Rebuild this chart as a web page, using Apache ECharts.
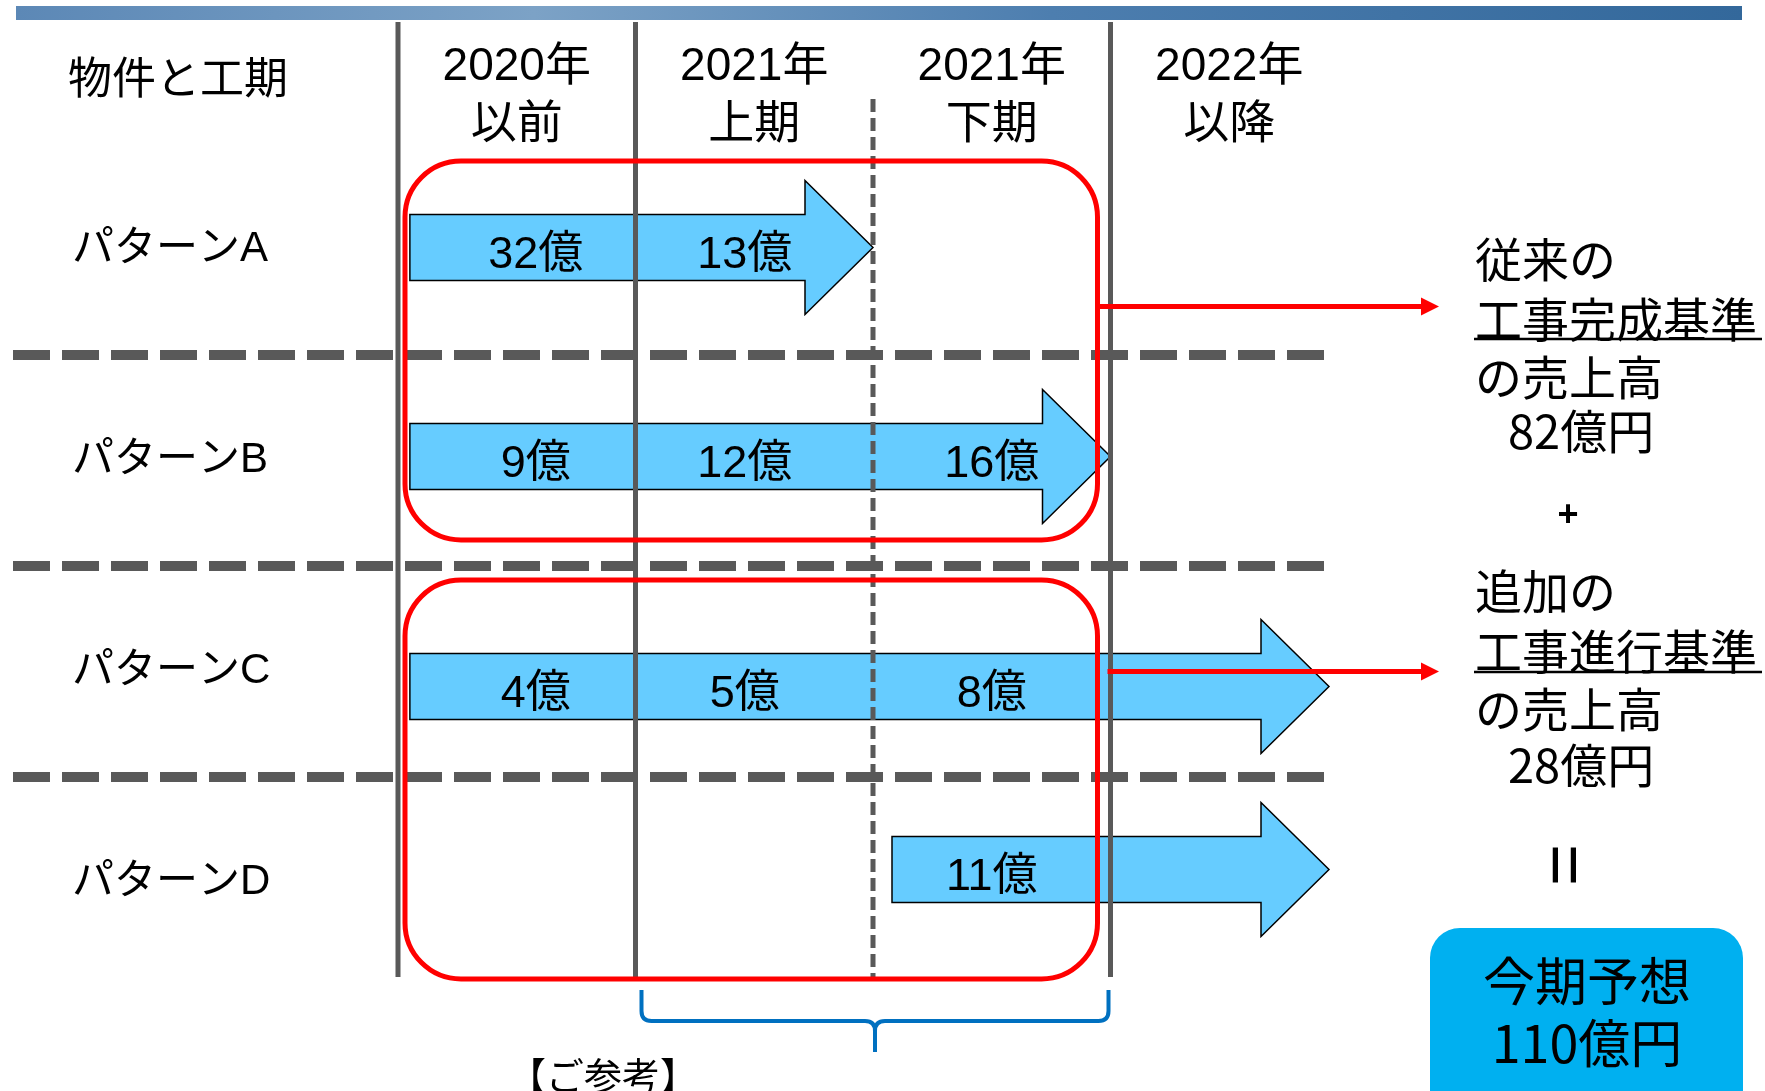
<!DOCTYPE html>
<html>
<head>
<meta charset="utf-8">
<script src="https://cdn.jsdelivr.net/npm/echarts@6/dist/echarts.min.js"></script>
<style>
  html, body { margin: 0; padding: 0; background: #ffffff; }
  #chart { width: 1765px; height: 1091px; }
</style>
</head>
<body>
<div id="chart"></div>
<script>
// Projects (rows) and half-year periods (columns)
const patterns = ['パターンA', 'パターンB', 'パターンC', 'パターンD'];
const periods = ['2020年\n以前', '2021年\n上期', '2021年\n下期', '2022年\n以降'];

// Construction span of each project, measured in half-year periods
const spanStart = [0.05, 0.05, 0.05, 2.08];
const spanEnd = [2.0, 3.0, 3.92, 3.92];

// Revenue recognised in each period (億円), one list per project
const amountA = [32, 13, null, null];
const amountB = [9, 12, 16, null];
const amountC = [4, 5, 8, null];
const amountD = [null, null, 11, null];

// Which projects fall under each accounting basis
const completionBasis = [0, 1]; // 工事完成基準
const progressBasis = [2, 3];   // 工事進行基準

const amounts = [amountA, amountB, amountC, amountD];
const sumOf = rows => rows.reduce((t, r) => t + amounts[r].reduce((s, v) => s + (v || 0), 0), 0);
const completionTotal = sumOf(completionBasis);
const progressTotal = sumOf(progressBasis);
const forecastTotal = completionTotal + progressTotal;

const FONT_CJK = '"Noto Sans CJK JP", "Noto Sans", sans-serif';
const FONT_MIXED = '"Liberation Sans", "Noto Sans CJK JP", sans-serif';
const GRAY = '#595959';

// layout constants (pixels)
const LINE_TOP = 22, DASH_TOP = 99, LINE_BOTTOM = 977;
const DIVIDER_LEFT = 13;
const BOX_INSET = [[17, 26], [14, 9]];
const BOX_RIGHT_INSET = 13, BOX_LEFT_INSET = 7;
const ARROW_SHIFT = [-2, -4, 15, -13];
const LABEL_NUDGE = [0.08, -0.04, 0];
const CONNECTOR_ROW = [0.27, 2];
const CONNECTOR_END = 1439;
const TEXT_LEFT = 1475;

// Series data built from the lists above
const arrowData = patterns.map((p, i) => [i, spanStart[i], spanEnd[i]]);
const labelData = [];
amounts.forEach((row, i) => {
  row.forEach((v, c) => {
    if (v == null) return;
    labelData.push([c + 0.5 + LABEL_NUDGE[c], i, v]);
  });
});
const yearOf = s => s.split('\n')[0];
const boundaryData = periods.map((p, i) => [i, i > 0 && yearOf(periods[i - 1]) === yearOf(p) ? 1 : 0]);
const dividerData = patterns.slice(1).map((p, i) => [i + 0.5]);
const groupData = [completionBasis, progressBasis].map(g => [Math.min(...g), Math.max(...g)]);

const chart = echarts.init(document.getElementById('chart'), null, { renderer: 'canvas' });

const option = {
  backgroundColor: '#ffffff',
  animation: false,
  grid: { left: 398, top: 144, width: 950, height: 844, containLabel: false, outerBoundsMode: 'none' },
  xAxis: {
    type: 'value', position: 'top', min: 0, max: 4, interval: 0.5,
    axisLine: { show: false }, axisTick: { show: false }, splitLine: { show: false },
    axisLabel: {
      formatter: v => (Math.round(v * 2) % 2 === 1 ? periods[Math.floor(v)] : ''),
      margin: 48, verticalAlign: 'middle', fontSize: 46, lineHeight: 58,
      color: '#000', fontFamily: FONT_MIXED, showMinLabel: true, showMaxLabel: true
    }
  },
  yAxis: [
    {
      type: 'category', data: patterns, inverse: true, boundaryGap: true,
      axisLine: { show: false }, axisTick: { show: false }, splitLine: { show: false },
      axisLabel: { align: 'left', margin: 326, fontSize: 42, color: '#000', fontFamily: FONT_MIXED, padding: [0, 0, 8, 0] }
    },
    { type: 'value', min: -0.5, max: 3.5, inverse: true, show: false }
  ],
  series: [
    {
      // construction span arrows
      type: 'custom', name: 'span', xAxisIndex: 0, yAxisIndex: 1, z: 1, clip: false,
      data: arrowData,
      renderItem: (params, api) => {
        const row = api.value(0);
        const a = api.coord([api.value(1), row]);
        const b = api.coord([api.value(2), row]);
        const bh = 33, hh = 67, hl = 68;
        const y = a[1] + ARROW_SHIFT[row], x0 = a[0], x1 = b[0], xh = x1 - hl;
        return {
          type: 'polygon',
          shape: { points: [[x0, y - bh], [xh, y - bh], [xh, y - hh], [x1, y], [xh, y + hh], [xh, y + bh], [x0, y + bh]] },
          style: { fill: '#66CCFF', stroke: '#000000', lineWidth: 1.5 }
        };
      }
    },
    {
      // period boundaries
      type: 'custom', name: 'boundary', xAxisIndex: 0, yAxisIndex: 1, z: 2, clip: false,
      data: boundaryData,
      renderItem: (params, api) => {
        const x = api.coord([api.value(0), 0])[0];
        const dashed = api.value(1) === 1;
        return {
          type: 'line',
          shape: { x1: x, y1: dashed ? DASH_TOP : LINE_TOP, x2: x, y2: LINE_BOTTOM },
          style: dashed
            ? { stroke: GRAY, lineWidth: 5, lineDash: [13, 6] }
            : { stroke: GRAY, lineWidth: 5 }
        };
      }
    },
    {
      // row dividers
      type: 'custom', name: 'divider', xAxisIndex: 0, yAxisIndex: 1, z: 3, clip: false,
      data: dividerData,
      renderItem: (params, api) => {
        const y = api.coord([0, api.value(0)])[1];
        const xr = api.coord([Math.max(...spanEnd), 0])[0];
        return {
          type: 'line',
          shape: { x1: DIVIDER_LEFT, y1: y, x2: xr, y2: y },
          style: { stroke: GRAY, lineWidth: 10, lineDash: [37, 12] }
        };
      }
    },
    {
      // amount labels on the arrows
      type: 'custom', name: 'amount', xAxisIndex: 0, yAxisIndex: 1, z: 6, clip: false,
      data: labelData,
      renderItem: (params, api) => {
        const row = api.value(1);
        const p = api.coord([api.value(0), row]);
        return {
          type: 'text',
          style: {
            x: p[0], y: p[1] + ARROW_SHIFT[row] + 8, text: api.value(2) + '億',
            align: 'center', verticalAlign: 'middle',
            font: '45px ' + FONT_MIXED, fill: '#000000'
          }
        };
      }
    },
    {
      // accounting basis groups
      type: 'custom', name: 'group', xAxisIndex: 0, yAxisIndex: 1, z: 5, clip: false,
      data: groupData,
      renderItem: (params, api) => {
        const i = params.dataIndex;
        const top = api.coord([0, api.value(0) - 0.5])[1] + BOX_INSET[i][0];
        const bottom = api.coord([0, api.value(1) + 0.5])[1] - BOX_INSET[i][1];
        const left = api.coord([0, 0])[0] + BOX_LEFT_INSET;
        const right = api.coord([3, 0])[0] - BOX_RIGHT_INSET;
        return {
          type: 'rect',
          shape: { x: left, y: top, width: right - left, height: bottom - top, r: 56 },
          style: { fill: 'none', stroke: '#FF0000', lineWidth: 5 }
        };
      }
    },
    {
      // connectors to the totals
      type: 'custom', name: 'connector', xAxisIndex: 0, yAxisIndex: 1, z: 5, clip: false,
      data: groupData,
      renderItem: (params, api) => {
        const i = params.dataIndex;
        const y = api.coord([0, CONNECTOR_ROW[i]])[1];
        const x0 = api.coord([3, 0])[0] - (i === 0 ? BOX_RIGHT_INSET : 3);
        const x1 = CONNECTOR_END;
        return {
          type: 'group',
          children: [
            { type: 'line', shape: { x1: x0, y1: y, x2: x1 - 15, y2: y }, style: { stroke: '#FF0000', lineWidth: 5 } },
            { type: 'polygon', shape: { points: [[x1 - 18, y - 9], [x1, y], [x1 - 18, y + 9]] }, style: { fill: '#FF0000' } }
          ]
        };
      }
    },
    {
      // brace spanning the current fiscal year
      type: 'custom', name: 'brace', xAxisIndex: 0, yAxisIndex: 1, z: 5, clip: false,
      data: [[1, 3]],
      renderItem: (params, api) => {
        const L = api.coord([api.value(0), 0])[0] + 6;
        const R = api.coord([api.value(1), 0])[0] - 2;
        const C = (L + R) / 2;
        const yt = 990, yh = 1021, yb = 1052, r = 10;
        const path = `M${L},${yt} L${L},${yh - r} Q${L},${yh} ${L + r},${yh} L${C - r},${yh} Q${C},${yh} ${C},${yh + r} L${C},${yb} ` +
          `M${C},${yh + r} Q${C},${yh} ${C + r},${yh} L${R - r},${yh} Q${R},${yh} ${R},${yh - r} L${R},${yt}`;
        return {
          type: 'path',
          shape: { pathData: path },
          style: { fill: 'none', stroke: '#0070C0', lineWidth: 4 }
        };
      }
    }
  ],
  graphic: [
    {
      type: 'rect', z: 10,
      shape: { x: 16, y: 6, width: 1726, height: 14 },
      style: {
        fill: new echarts.graphic.LinearGradient(0, 0, 1, 0, [
          { offset: 0, color: '#5c88b6' },
          { offset: 0.3, color: '#7ca2c6' },
          { offset: 0.6, color: '#4d7eaf' },
          { offset: 1, color: '#33689b' }
        ])
      }
    },
    { type: 'text', x: 68, y: 77, style: { text: '物件と工期', font: '44px ' + FONT_CJK, fill: '#000', verticalAlign: 'middle' } },
    { type: 'text', x: TEXT_LEFT, y: 259, style: { text: '従来の', font: '47px ' + FONT_CJK, fill: '#000', verticalAlign: 'middle' } },
    { type: 'text', x: TEXT_LEFT, y: 319, style: { text: '工事完成基準', font: '47px ' + FONT_CJK, fill: '#000', verticalAlign: 'middle' } },
    { type: 'line', shape: { x1: TEXT_LEFT - 1, y1: 339, x2: 1762, y2: 339 }, style: { stroke: '#000', lineWidth: 2.5 } },
    { type: 'text', x: TEXT_LEFT, y: 377, style: { text: 'の売上高', font: '47px ' + FONT_CJK, fill: '#000', verticalAlign: 'middle' } },
    { type: 'text', x: 1508, y: 431, style: { text: completionTotal + '億円', font: '47px ' + FONT_CJK, fill: '#000', verticalAlign: 'middle' } },
    { type: 'text', x: 1568, y: 516, style: { text: '+', font: 'bold 36px "Liberation Sans", sans-serif', fill: '#000', align: 'center', verticalAlign: 'middle' } },
    { type: 'text', x: TEXT_LEFT, y: 591, style: { text: '追加の', font: '47px ' + FONT_CJK, fill: '#000', verticalAlign: 'middle' } },
    { type: 'text', x: TEXT_LEFT, y: 651, style: { text: '工事進行基準', font: '47px ' + FONT_CJK, fill: '#000', verticalAlign: 'middle' } },
    { type: 'line', shape: { x1: TEXT_LEFT - 1, y1: 672, x2: 1762, y2: 672 }, style: { stroke: '#000', lineWidth: 2.5 } },
    { type: 'text', x: TEXT_LEFT, y: 709, style: { text: 'の売上高', font: '47px ' + FONT_CJK, fill: '#000', verticalAlign: 'middle' } },
    { type: 'text', x: 1508, y: 765, style: { text: progressTotal + '億円', font: '47px ' + FONT_CJK, fill: '#000', verticalAlign: 'middle' } },
    { type: 'text', x: 1568, y: 865, rotation: Math.PI / 2, style: { text: '=', font: '72px "Liberation Sans", sans-serif', fill: '#000', align: 'center', verticalAlign: 'middle' } },
    { type: 'rect', shape: { x: 1430, y: 928, width: 313, height: 200, r: 30 }, style: { fill: '#00B0F0' } },
    { type: 'text', x: 1587, y: 1012, style: { text: '今期予想\n' + forecastTotal + '億円', font: '52px ' + FONT_CJK, lineHeight: 62, fill: '#000', align: 'center', verticalAlign: 'middle' } },
    { type: 'text', x: 508, y: 1076, style: { text: '【ご参考】', font: '38px ' + FONT_CJK, fill: '#000', verticalAlign: 'middle' } }
  ]
};

chart.setOption(option);
</script>
</body>
</html>
